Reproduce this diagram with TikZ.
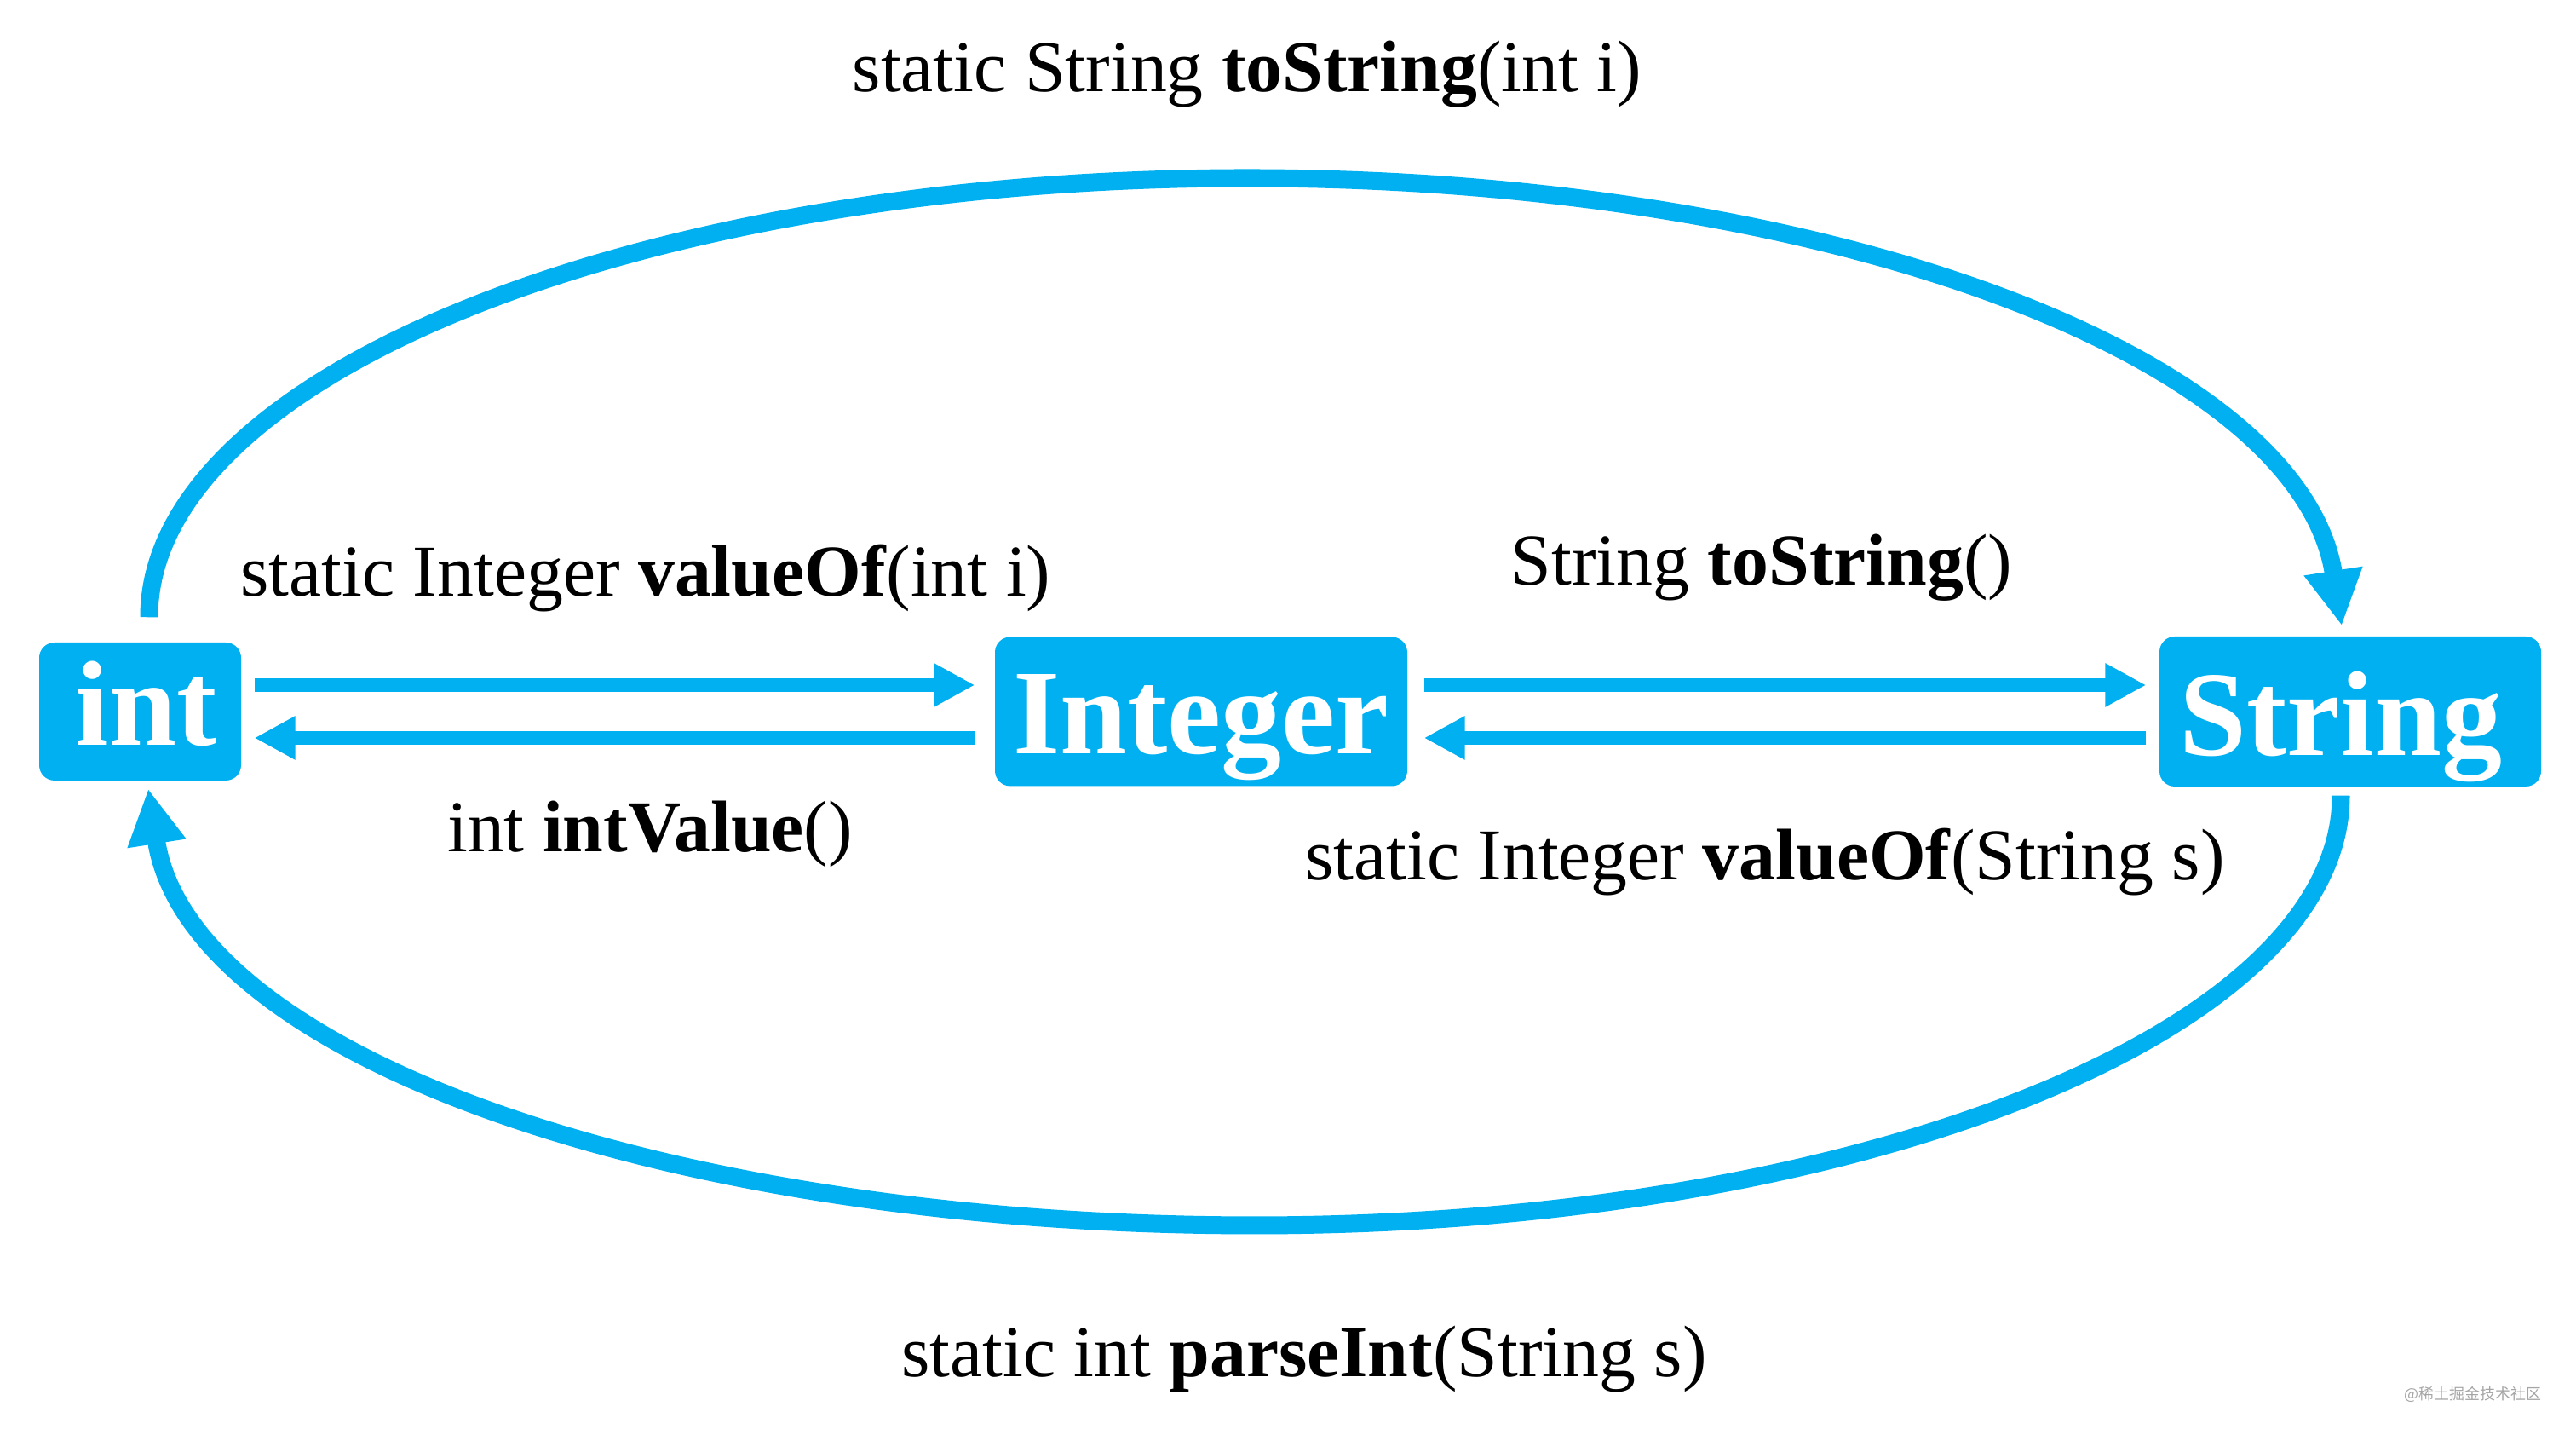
\documentclass[tikz,border=0pt]{standalone}
\usepackage{fontspec}
\setmainfont{Liberation Serif}
\newfontfamily\cjkfont{Noto Sans CJK SC}
\usetikzlibrary{arrows.meta,calc}
\definecolor{pptblue}{RGB}{0,176,240}
\definecolor{wmgray}{RGB}{165,165,165}
\begin{document}
\begin{tikzpicture}[
  typebox/.style={fill=pptblue, rounded corners=0.18cm, text=white,
    font=\fontsize{40.4pt}{48pt}\selectfont\bfseries, inner sep=0pt, text depth=0pt},
  methodlabel/.style={font=\fontsize{24.4pt}{29pt}\selectfont, inner sep=0pt, anchor=base},
  harrow/.style={draw=pptblue, line width=0.16cm, -{Triangle[length=0.48cm,width=0.48cm]}},
  carrow/.style={draw=pptblue, line width=0.21cm, -{Triangle[length=0.65cm,width=0.65cm]}}
]
\useasboundingbox (0,0) rectangle (30.24,16.84);

% type boxes
\node[typebox, minimum width=2.37cm, minimum height=1.62cm, text height=0.80cm] (int) at (1.645,8.49) {\kern0.14cm int};
\node[typebox, minimum width=4.84cm, minimum height=1.75cm, text height=1.00cm] (Integer) at (14.10,8.49) {Integer};
\node[typebox, minimum width=4.48cm, minimum height=1.76cm, text height=1.04cm] (String) at (27.59,8.49) {String\kern0.22cm};

% horizontal arrows
\draw[harrow, shorten <=0.15cm, shorten >=0.23cm] ([yshift=0.31cm]int.east) -- ([yshift=0.31cm]Integer.west);
\draw[harrow, shorten <=0.23cm, shorten >=0.15cm] ([yshift=-0.31cm]Integer.west) -- ([yshift=-0.31cm]int.east);
\draw[harrow, shorten <=0.19cm, shorten >=0.15cm] ([yshift=0.31cm]Integer.east) -- ([yshift=0.31cm]String.west);
\draw[harrow, shorten <=0.15cm, shorten >=0.19cm] ([yshift=-0.31cm]String.west) -- ([yshift=-0.31cm]Integer.east);

% top arc int -> String
\coordinate (ttop) at (14.64,14.75);
\draw[carrow] ([xshift=0.105cm,yshift=0.29cm]int.north)
  .. controls (1.75,12.44) and (7.53,14.75) .. (ttop)
  .. controls (21.50,14.75) and (27.00,12.64) .. ([xshift=-0.10cm,yshift=0.12cm]String.north);

% bottom arc String -> int
\coordinate (bbot) at (14.73,2.46);
\draw[carrow] ([xshift=-0.11cm,yshift=-0.10cm]String.south)
  .. controls (27.48,4.72) and (21.77,2.46) .. (bbot)
  .. controls (7.87,2.46) and (2.23,4.44) .. ([xshift=0.095cm,yshift=-0.09cm]int.south);

% labels
\node[methodlabel] (l1) at (14.64,15.76) {static String \textbf{toString}(int i)};
\node[methodlabel] (l2) at (7.58,9.84) {static Integer \textbf{valueOf}(int i)};
\node[methodlabel] (l3) at (20.68,9.97) {String \textbf{toString}()};
\node[methodlabel] (l4) at (7.63,6.84) {int \textbf{intValue}()};
\node[methodlabel] (l5) at (20.72,6.51) {static Integer \textbf{valueOf}(String s)};
\node[methodlabel] (l6) at (15.31,0.68) {static int \textbf{parseInt}(String s)};

% watermark
\node[inner sep=0pt, text=wmgray, font=\cjkfont\fontsize{5.1pt}{6pt}\selectfont] (wm) at (29.03,0.48) {@稀土掘金技术社区};
\end{tikzpicture}
\end{document}
